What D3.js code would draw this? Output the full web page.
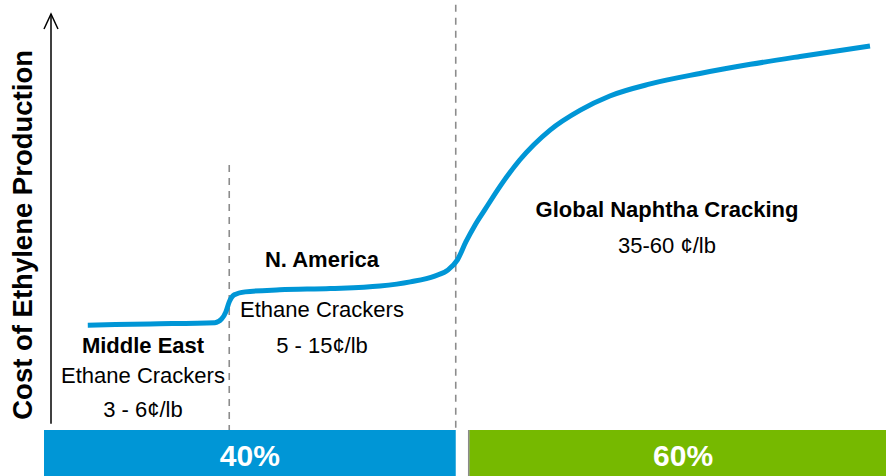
<!DOCTYPE html>
<html>
<head>
<meta charset="utf-8">
<script src="https://cdn.jsdelivr.net/npm/d3@7"></script>
<style>
  html, body { margin: 0; padding: 0; background: #fff; }
  svg { display: block; font-family: "Liberation Sans", Arial, sans-serif; }
</style>
</head>
<body>
<div id="chart"></div>
<script>
// ---- Data ----
// Cost curve: cumulative capacity (index 0-100) vs. relative cost (index 0-100)
const capacity = [5.2, 12.6, 20.3, 21.1, 21.6, 22.0, 22.6, 23.9, 28.0, 34.0, 39.9, 43.5, 46.4, 48.0, 49.1, 50.1, 51.2, 52.4, 54.2, 56.5, 60.1, 63.7, 67.2, 72.0, 77.9, 83.9, 89.8, 98.1];
const cost     = [25.2, 25.5, 25.8, 26.7, 28.4, 30.8, 32.5, 33.2, 33.7, 34.0, 34.6, 35.6, 37.0, 38.5, 40.9, 45.2, 49.3, 53.1, 58.7, 64.9, 72.1, 76.9, 80.3, 83.2, 85.7, 87.9, 89.8, 92.3];

// Region dividers (capacity index) and the cost index where each dashed line starts
const dividerX   = [22.0, 48.9];
const dividerTop = [63.7, 102.2];

// Share bars (capacity index extents)
const shareLabels = ["40%", "60%"];
const shareStart  = [0, 50.5];
const shareEnd    = [48.9, 101.3];
const shareColors = ["#0096D6", "#76B900"];

// Region annotations
const regionTitles = ["Middle East", "N. America", "Global Naphtha Cracking"];
const regionTypes  = ["Ethane Crackers", "Ethane Crackers", ""];
const regionCosts  = ["3 - 6\u00A2/lb", "5 - 15\u00A2/lb", "35-60 \u00A2/lb"];

const yAxisLabel = "Cost of Ethylene Production";

// ---- Layout ----
const W = 886, H = 476;
const svg = d3.select("#chart").append("svg").attr("width", W).attr("height", H);

const x = d3.scaleLinear().domain([0, 100]).range([44, 886]);
const y = d3.scaleLinear().domain([0, 100]).range([430, 14]);

// Y axis with open arrow
const axisX = 51;
svg.append("line")
  .attr("x1", axisX).attr("x2", axisX)
  .attr("y1", y(1.5)).attr("y2", y(100))
  .attr("stroke", "#000").attr("stroke-width", 1.5);
svg.append("path")
  .attr("d", `M${axisX - 7},${y(100) + 15} L${axisX},${y(100)} L${axisX + 7},${y(100) + 15}`)
  .attr("fill", "none").attr("stroke", "#000").attr("stroke-width", 1.5);

svg.append("text")
  .attr("transform", `translate(32,${(y(1.5) + 46) / 2}) rotate(-90)`)
  .attr("text-anchor", "middle")
  .attr("font-size", 27.5).attr("font-weight", "bold")
  .attr("fill", "#000")
  .text(yAxisLabel);

// Dashed dividers
svg.selectAll("line.divider")
  .data(dividerX)
  .join("line")
  .attr("class", "divider")
  .attr("x1", d => x(d)).attr("x2", d => x(d))
  .attr("y1", (d, i) => y(dividerTop[i])).attr("y2", y(0))
  .attr("stroke", "#8c8c8c").attr("stroke-width", 1.6)
  .attr("stroke-dasharray", "7,6");

// Share bars
const barTop = y(0), barH = H - y(0);
svg.selectAll("rect.share")
  .data(shareLabels)
  .join("rect")
  .attr("class", "share")
  .attr("x", (d, i) => x(shareStart[i]))
  .attr("width", (d, i) => x(shareEnd[i]) - x(shareStart[i]))
  .attr("y", barTop).attr("height", barH)
  .attr("fill", (d, i) => shareColors[i]);
// thin grey edge on the second bar
svg.append("line")
  .attr("x1", x(shareStart[1]) - 0.5).attr("x2", x(shareStart[1]) - 0.5)
  .attr("y1", barTop).attr("y2", H)
  .attr("stroke", "#8a8a8a").attr("stroke-width", 1.5);

svg.selectAll("text.share")
  .data(shareLabels)
  .join("text")
  .attr("class", "share")
  .attr("x", (d, i) => (x(shareStart[i]) + x(shareEnd[i])) / 2)
  .attr("y", barTop + 36)
  .attr("text-anchor", "middle")
  .attr("font-size", 30).attr("font-weight", "bold")
  .attr("fill", "#fff")
  .text(d => d);

// Cost curve
const pts = capacity.map((c, i) => [c, cost[i]]);
const line = d3.line().x(d => x(d[0])).y(d => y(d[1])).curve(d3.curveMonotoneX);
svg.append("path")
  .datum(pts)
  .attr("d", line)
  .attr("fill", "none")
  .attr("stroke", "#0096D6")
  .attr("stroke-width", 5)
  .attr("stroke-linecap", "butt")
  .attr("stroke-linejoin", "round");

// Region annotations
const annoPos = [
  { cx: 143, ys: [353, 383, 417] },
  { cx: 322, ys: [267, 317, 353] },
  { cx: 667, ys: [217, null, 253] }
];
regionTitles.forEach((t, i) => {
  const p = annoPos[i];
  const lines = [
    { text: t, bold: true, y: p.ys[0] },
    { text: regionTypes[i], bold: false, y: p.ys[1] },
    { text: regionCosts[i], bold: false, y: p.ys[2] }
  ].filter(l => l.text && l.y != null);
  svg.selectAll(null)
    .data(lines)
    .join("text")
    .attr("x", p.cx)
    .attr("y", l => l.y)
    .attr("text-anchor", "middle")
    .attr("font-size", 22)
    .attr("font-weight", l => l.bold ? "bold" : "normal")
    .attr("fill", "#000")
    .text(l => l.text);
});
</script>
</body>
</html>
